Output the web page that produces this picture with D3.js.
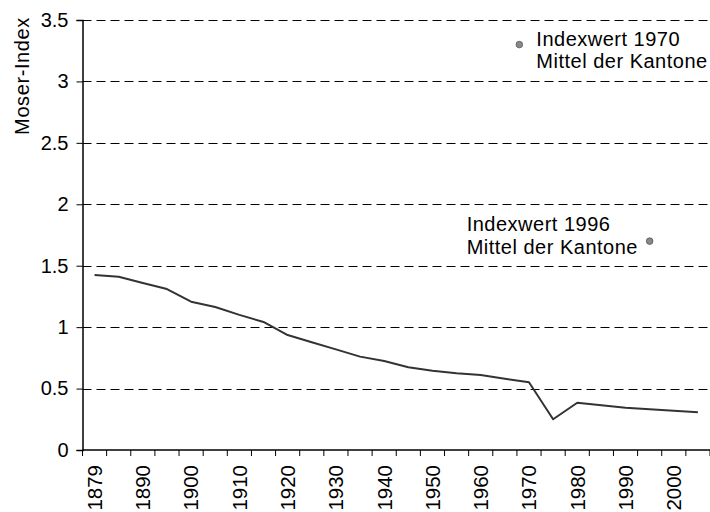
<!DOCTYPE html>
<html>
<head>
<meta charset="utf-8">
<script src="https://cdn.jsdelivr.net/npm/d3@7"></script>
<style>
  html, body { margin: 0; padding: 0; background: #fff; }
  svg { display: block; }
  text { font-family: "Liberation Sans", Arial, sans-serif; fill: #000; }
</style>
</head>
<body>
<svg id="chart" width="710" height="512"></svg>
<script>
// ---- data ----
const years = [1879, 1885, 1890, 1895, 1900, 1905, 1910, 1915, 1920, 1925, 1930, 1935, 1940,
               1945, 1950, 1955, 1960, 1965, 1970, 1975, 1980, 1985, 1990, 1995, 2000, 2005];
const moserIndex = [1.424, 1.41, 1.36, 1.31, 1.207, 1.164, 1.10, 1.042, 0.936, 0.877, 0.819, 0.76, 0.725,
                    0.673, 0.645, 0.625, 0.61, 0.58, 0.551, 0.25, 0.385, 0.365, 0.344, 0.331, 0.32, 0.307];
const tickLabels = years.map((y, i) => (i % 2 === 0 ? String(y) : ""));
const yTicks = [0, 0.5, 1, 1.5, 2, 2.5, 3, 3.5];
const yTickLabels = ["0", "0.5", "1", "1.5", "2", "2.5", "3", "3.5"];
const dotYears = [1968, 1995];
const dotValues = [3.30, 1.70];
const dotLabels = [["Indexwert 1970", "Mittel der Kantone"], ["Indexwert 1996", "Mittel der Kantone"]];
const yTitle = "Moser-Index";

// ---- layout ----
const svg = d3.select("#chart");
const mLeft = 82.5, mRight = 710, mTop = 20, mBottom = 450;
const fontSize = 19.5;

const x = d3.scaleBand().domain(years).range([mLeft, mRight]).padding(0);
const y = d3.scaleLinear().domain([0, 3.5]).range([mBottom, mTop]);
const xc = d => x(d) + x.bandwidth() / 2;
const xYear = d3.scaleLinear().domain(years).range(years.map(xc));

// gridlines
svg.append("g").selectAll("line")
  .data(yTicks.filter(t => t > 0))
  .join("line")
  .attr("x1", mLeft).attr("x2", mRight)
  .attr("y1", d => Math.round(y(d)) + 0.5).attr("y2", d => Math.round(y(d)) + 0.5)
  .attr("stroke", "#000").attr("stroke-width", 1)
  .attr("stroke-dasharray", "9,5");

// y axis
const yAxis = d3.axisLeft(y).tickValues(yTicks).tickSize(6).tickPadding(8)
  .tickFormat((d, i) => yTickLabels[i]);
const gy = svg.append("g").attr("transform", `translate(${mLeft},0)`).call(yAxis);
gy.select(".domain").attr("stroke", "#000").attr("stroke-width", 1.5);
gy.selectAll(".tick line").attr("stroke", "#000").attr("stroke-width", 1);
gy.selectAll(".tick text").style("font-size", "20px")
  .style("font-family", '"Liberation Sans", Arial, sans-serif').attr("fill", "#000");

// x axis (ticks at category boundaries)
const gx = svg.append("g").attr("transform", `translate(0,${mBottom})`);
gx.append("line").attr("x1", mLeft).attr("x2", mRight).attr("y1", 0).attr("y2", 0)
  .attr("stroke", "#000").attr("stroke-width", 1.5);
gx.selectAll("line.tk")
  .data(years.concat(["end"]))
  .join("line").attr("class", "tk")
  .attr("x1", (d, i) => (i < years.length ? x(d) : mRight))
  .attr("x2", (d, i) => (i < years.length ? x(d) : mRight))
  .attr("y1", 0).attr("y2", 6)
  .attr("stroke", "#000").attr("stroke-width", 1);
gx.selectAll("text")
  .data(years)
  .join("text")
  .attr("transform", d => `translate(${xc(d)},15) rotate(-90)`)
  .attr("dy", "0.36em")
  .attr("text-anchor", "end")
  .style("font-size", "20.5px")
  .text((d, i) => tickLabels[i]);

// line
const line = d3.line().x((d, i) => xc(years[i])).y(d => y(d));
svg.append("path")
  .datum(moserIndex)
  .attr("d", line)
  .attr("fill", "none")
  .attr("stroke", "#333")
  .attr("stroke-width", 2)
  .attr("stroke-linejoin", "round");

// dots
svg.append("g").selectAll("circle")
  .data(dotValues)
  .join("circle")
  .attr("cx", (d, i) => xYear(dotYears[i]))
  .attr("cy", d => y(d))
  .attr("r", 3.3)
  .attr("fill", "#888")
  .attr("stroke", "#555")
  .attr("stroke-width", 0.8);

// annotations
const ann = svg.append("g");
ann.append("text")
  .attr("x", xYear(dotYears[0]) + 17)
  .attr("y", y(dotValues[0]) + 1.5)
  .style("font-size", "20px")
  .style("letter-spacing", "0.5px")
  .selectAll("tspan").data(dotLabels[0]).join("tspan")
  .attr("x", xYear(dotYears[0]) + 17)
  .attr("dy", (d, i) => (i === 0 ? 0 : 22.3))
  .text(d => d);
ann.append("text")
  .attr("x", xYear(dotYears[1]) - 183)
  .attr("y", y(dotValues[1]) - 10.5)
  .style("font-size", "20px")
  .style("letter-spacing", "0.5px")
  .selectAll("tspan").data(dotLabels[1]).join("tspan")
  .attr("x", xYear(dotYears[1]) - 183)
  .attr("dy", (d, i) => (i === 0 ? 0 : 23.5))
  .text(d => d);

// y title
svg.append("text")
  .attr("transform", "translate(22,76) rotate(-90)")
  .attr("dy", "0.35em")
  .attr("text-anchor", "middle")
  .style("font-size", "20px")
  .style("letter-spacing", "0.6px")
  .text(yTitle);
</script>
</body>
</html>
